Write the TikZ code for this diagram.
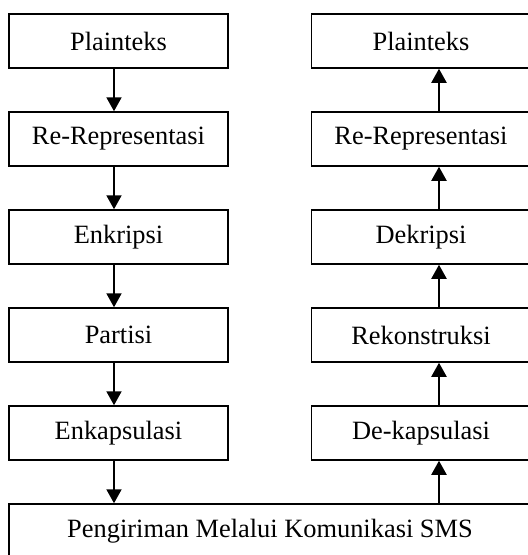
\documentclass[tikz,border=0pt]{standalone}
\usepackage{fontspec}
\setmainfont{Liberation Serif}
\usetikzlibrary{arrows.meta}
\tikzset{
  stage/.style={draw, line width=1.5pt, minimum width=219pt, minimum height=54pt,
    inner sep=0pt, font=\fontsize{26.4}{30}\selectfont},
  flow/.style={line width=2pt, -{Triangle[length=14pt,width=15pt]}}
}
\begin{document}
\begin{tikzpicture}[x=1pt, y=-1pt]
      \useasboundingbox (0,0) rectangle (528,555);

      % Sender side
      \node[stage] (kirimA) at (118.5,41) {Plainteks};
      \node[stage] (kirimB) at (118.5,139) {Re-Representasi};
      \node[stage] (kirimC) at (118.5,237) {Enkripsi};
      \node[stage] (kirimD) at (118.5,335) {Partisi};
      \node[stage] (kirimE) at (118.5,433) {Enkapsulasi};

      % Receiver side
      \node[stage] (terimaA) at (421,41) {Plainteks};
      \node[stage] (terimaB) at (421,139) {Re-Representasi};
      \node[stage] (terimaC) at (421,237) {Dekripsi};
      \node[stage] (terimaD) at (421,335) {Rekonstruksi};
      \node[stage] (terimaE) at (421,433) {De-kapsulasi};

      % Channel
      \node[stage, minimum width=522pt] (sms) at (270,531) {Pengiriman Melalui Komunikasi SMS};

      % Arrows down the sender side
      \draw[flow] ([xshift=-4.5pt]kirimA.south) -- ([xshift=-4.5pt]kirimB.north);
      \draw[flow] ([xshift=-4.5pt]kirimB.south) -- ([xshift=-4.5pt]kirimC.north);
      \draw[flow] ([xshift=-4.5pt]kirimC.south) -- ([xshift=-4.5pt]kirimD.north);
      \draw[flow] ([xshift=-4.5pt]kirimD.south) -- ([xshift=-4.5pt]kirimE.north);
      \draw[flow] ([xshift=-4.5pt]kirimE.south) -- ([xshift=-4.5pt]kirimE.south |- sms.north);

      % Arrows up the receiver side
      \draw[flow] ([xshift=18pt]terimaE.south |- sms.north) -- ([xshift=18pt]terimaE.south);
      \draw[flow] ([xshift=18pt]terimaE.north) -- ([xshift=18pt]terimaD.south);
      \draw[flow] ([xshift=18pt]terimaD.north) -- ([xshift=18pt]terimaC.south);
      \draw[flow] ([xshift=18pt]terimaC.north) -- ([xshift=18pt]terimaB.south);
      \draw[flow] ([xshift=18pt]terimaB.north) -- ([xshift=18pt]terimaA.south);
\end{tikzpicture}
\end{document}
